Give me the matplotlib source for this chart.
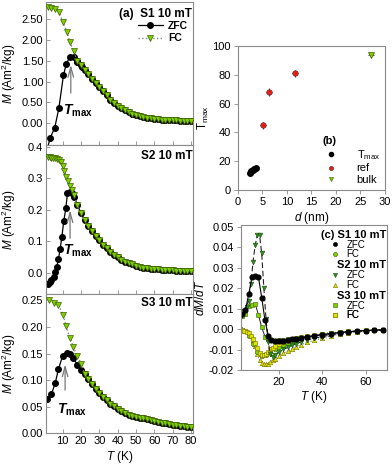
import matplotlib
matplotlib.use("Agg")
import matplotlib.pyplot as plt
from matplotlib.lines import Line2D
from matplotlib.ticker import FormatStrFormatter, MultipleLocator

plt.rcParams['font.family'] = ['Liberation Sans', 'DejaVu Sans']
plt.rcParams['font.size'] = 8
plt.rcParams['mathtext.fontset'] = 'custom'
plt.rcParams['mathtext.rm'] = 'Liberation Sans'
plt.rcParams['mathtext.it'] = 'Liberation Sans:italic'
plt.rcParams['mathtext.bf'] = 'Liberation Sans:bold'
try:
    plt.rcParams['mathtext.bfit'] = 'Liberation Sans:italic:bold'
except Exception:
    pass

# ---------------- data: panel (a) S1 ----------------
s1_zfc_T = [1.8, 3.3, 5.8, 8.0, 10.5, 12.0, 14.0, 16.0, 18.1, 20.8]
s1_zfc_M = [-0.60, -0.35, -0.10, 0.36, 1.15, 1.42, 1.60, 1.60, 1.48, 1.36]
s1_fc_T = [1.9, 4.0, 6.0, 8.2, 10.3, 12.3, 14.1, 16.1]
s1_fc_M = [2.78, 2.76, 2.74, 2.66, 2.42, 2.20, 1.94, 1.73]
s1_tail_T = [18, 20, 22, 24, 26, 28, 30, 32, 34, 36, 38, 40, 42, 44, 46, 48, 50,
             52, 54, 56, 58, 60, 62, 64, 66, 68, 70, 72, 74, 76, 78, 80]
s1_tail_M = [1.50, 1.40, 1.29, 1.18, 1.07, 0.97, 0.87, 0.77, 0.67, 0.57, 0.49, 0.42,
             0.36, 0.31, 0.26, 0.22, 0.19, 0.17, 0.15, 0.13, 0.12, 0.11, 0.10, 0.09,
             0.085, 0.08, 0.075, 0.07, 0.065, 0.06, 0.055, 0.05]

# ---------------- data: panel S2 ----------------
s2_zfc_T = [1.9, 3.0, 4.0, 5.1, 6.0, 6.9, 7.8, 8.7, 9.6, 10.7, 11.8, 12.7, 13.9, 15.0, 16.5]
s2_zfc_M = [-0.037, -0.030, -0.023, -0.013, 0.002, 0.019, 0.043, 0.075, 0.112, 0.164,
            0.204, 0.252, 0.257, 0.254, 0.241]
s2_fc_T = [2, 3, 4, 5, 6, 7, 8, 9, 10, 11, 12, 13, 14, 15, 16]
s2_fc_M = [0.366, 0.366, 0.365, 0.364, 0.363, 0.361, 0.357, 0.350, 0.338, 0.322,
           0.305, 0.290, 0.275, 0.262, 0.245]
s2_tail_T = s1_tail_T
s2_tail_M = [0.215, 0.190, 0.168, 0.148, 0.131, 0.115, 0.102, 0.089, 0.077, 0.066,
             0.056, 0.048, 0.041, 0.035, 0.030, 0.026, 0.022, 0.019, 0.016, 0.014,
             0.012, 0.011, 0.010, 0.009, 0.008, 0.007, 0.007, 0.006, 0.006, 0.005,
             0.005, 0.005]

# ---------------- data: panel S3 ----------------
s3_zfc_T = [1.5, 4.0, 6.0, 7.8, 10.0, 12.3, 13.9, 15.9, 18.1, 20.0]
s3_zfc_M = [0.065, 0.074, 0.094, 0.121, 0.145, 0.151, 0.150, 0.141, 0.129, 0.119]
s3_fc_T = [2.4, 5.1, 7.8, 10.5, 11.9, 14.1, 15.9, 18.1, 20.3]
s3_fc_M = [0.250, 0.246, 0.241, 0.222, 0.201, 0.179, 0.162, 0.145, 0.130]
s3_tail_T = [22, 24, 26, 28, 30, 32, 34, 36, 38, 40, 42, 44, 46, 48, 50, 52, 54, 56,
             58, 60, 62, 64, 66, 68, 70, 72, 74, 76, 78, 80]
s3_tail_M = [0.112, 0.102, 0.093, 0.084, 0.076, 0.069, 0.062, 0.056, 0.051, 0.046,
             0.042, 0.038, 0.035, 0.033, 0.031, 0.029, 0.028, 0.026, 0.025, 0.023,
             0.022, 0.020, 0.019, 0.017, 0.016, 0.015, 0.014, 0.013, 0.012, 0.011]

# ---------------- data: panel (b) ----------------
b_d_tmax = [2.5, 2.7, 3.0, 3.3, 3.6]
b_T_tmax = [11.5, 13.0, 14.0, 14.5, 15.0]
b_d_ref = [5.1, 6.3, 11.6]
b_T_ref = [45.0, 68.0, 81.0]
b_d_bulk = [27.1]
b_T_bulk = [94.0]

# ---------------- data: panel (c) ----------------
c_s1z_T = [3, 4.5, 6, 7.5, 9, 10.5, 12, 13.5, 15, 16.5, 18, 20, 22, 24, 26, 28, 30,
           33, 36, 40, 44, 48, 52, 56, 60, 64, 68]
c_s1z_y = [0.0075, 0.0095, 0.017, 0.0255, 0.026, 0.0255, 0.0155, 0.0045, -0.003,
           -0.005, -0.0055, -0.0056, -0.0055, -0.0052, -0.0049, -0.0045, -0.0042,
           -0.0037, -0.0032, -0.0026, -0.0021, -0.0016, -0.0012, -0.0009, -0.0006,
           -0.0004, -0.0003]
c_s1f_T = [2, 4, 6, 8, 10, 12, 14, 16, 18, 20, 22, 24, 26, 28, 30, 33, 36, 40, 44,
           48, 52, 56, 60, 64, 68]
c_s1f_y = [0.0, -0.001, -0.003, -0.007, -0.011, -0.013, -0.0125, -0.011, -0.0095,
           -0.0085, -0.0076, -0.0068, -0.006, -0.0054, -0.0048, -0.004, -0.0034,
           -0.0027, -0.0021, -0.0016, -0.0012, -0.0009, -0.0006, -0.0004, -0.0003]
c_s2z_T = [2, 3, 4, 5, 6, 7, 8, 9, 10, 11, 12, 13, 14, 15, 16, 17, 18, 20, 22, 24,
           26, 28, 30, 33, 36, 40, 44, 48, 52, 56, 60, 64, 68]
c_s2z_y = [0.005, 0.007, 0.009, 0.011, 0.014, 0.022, 0.033, 0.041, 0.046, 0.046,
           0.037, 0.020, 0.005, -0.006, -0.012, -0.0135, -0.0125, -0.011, -0.0098,
           -0.0088, -0.0078, -0.007, -0.0062, -0.0052, -0.0044, -0.0035, -0.0027,
           -0.002, -0.0015, -0.0011, -0.0008, -0.0005, -0.0004]
c_s2f_T = c_s2z_T
c_s2f_y = [0.0, 0.0, -0.0005, -0.001, -0.002, -0.003, -0.005, -0.008, -0.012, -0.015,
           -0.0165, -0.017, -0.017, -0.0168, -0.016, -0.015, -0.0142, -0.0128,
           -0.0116, -0.0105, -0.0095, -0.0085, -0.0076, -0.0064, -0.0054, -0.0042,
           -0.0032, -0.0024, -0.0017, -0.0012, -0.0008, -0.0005, -0.0003]
c_s3z_T = c_s1z_T
c_s3z_y = [0.0065, 0.0075, 0.0115, 0.012, 0.0125, 0.007, 0.001, -0.0035, -0.0048,
           -0.0053, -0.0055, -0.0054, -0.0052, -0.0049, -0.0046, -0.0043, -0.004,
           -0.0035, -0.003, -0.0025, -0.002, -0.0015, -0.0011, -0.0008, -0.0006,
           -0.0004, -0.0003]
c_s3f_T = c_s2z_T
c_s3f_y = [0.0, -0.0005, -0.001, -0.0015, -0.002, -0.003, -0.0045, -0.0065, -0.009,
           -0.0115, -0.0125, -0.0125, -0.012, -0.011, -0.0098, -0.009, -0.0083,
           -0.0072, -0.0063, -0.0055, -0.0049, -0.0043, -0.0038, -0.0032, -0.0027,
           -0.0021, -0.0016, -0.0012, -0.0009, -0.0006, -0.0004, -0.0003, -0.0002]

# ---------------- styles ----------------
LIME = '#7ED000'
LIME_E = '#3d6000'
DKGREEN = '#2f8f1f'
YELLOW = '#e2e200'
YELLOW_E = '#707000'
SPINE = '#8a8a8a'

fig = plt.figure(figsize=(3.92, 4.69), dpi=100)

def style_axes(ax, direction):
    for s in ax.spines.values():
        s.set_color(SPINE)
        s.set_linewidth(0.8)
    ax.tick_params(direction=direction, length=3, width=0.6, color=SPINE,
                   labelsize=8, pad=2)

left, width = 0.1173, 0.375
ax_a = fig.add_axes([left, 0.6908, width, 0.3049])
ax_2 = fig.add_axes([left, 0.3731, width, 0.3177])
ax_3 = fig.add_axes([left, 0.0761, width, 0.2970])

def draw_mt(ax, zT, zM, fT, fM, tT, tM):
    allzT = zT + tT
    allzM = zM + tM
    allfT = fT + tT
    allfM = fM + tM
    ax.plot(allfT, allfM, linestyle=':', color='#888888', lw=1.0, marker='v',
            ms=4, mfc=LIME, mec=LIME_E, mew=0.5, zorder=3, label='FC')
    ax.plot(allzT, allzM, linestyle='-', color='black', lw=0.9, marker='o',
            ms=4, mfc='black', mec='black', zorder=2, label='ZFC')
    ax.set_xlim(1, 81)
    ax.xaxis.set_major_locator(MultipleLocator(10))
    style_axes(ax, 'in')

draw_mt(ax_a, s1_zfc_T, s1_zfc_M, s1_fc_T, s1_fc_M, s1_tail_T, s1_tail_M)
draw_mt(ax_2, s2_zfc_T, s2_zfc_M, s2_fc_T, s2_fc_M, s2_tail_T, s2_tail_M)
draw_mt(ax_3, s3_zfc_T, s3_zfc_M, s3_fc_T, s3_fc_M, s3_tail_T, s3_tail_M)

ax_a.set_ylim(-0.52, 2.91)
ax_a.set_yticks([0, 0.5, 1.0, 1.5, 2.0, 2.5])
ax_a.yaxis.set_major_formatter(FormatStrFormatter('%.2f'))
ax_2.set_ylim(-0.068, 0.405)
ax_2.set_yticks([0.0, 0.1, 0.2, 0.3, 0.4])
ax_2.yaxis.set_major_formatter(FormatStrFormatter('%.1f'))
ax_3.set_ylim(0.0, 0.262)
ax_3.set_yticks([0, 0.05, 0.10, 0.15, 0.20, 0.25])
ax_3.yaxis.set_major_formatter(FormatStrFormatter('%.2f'))

for ax in (ax_a, ax_2):
    ax.tick_params(labelbottom=False)
ax_3.set_xticks([10, 20, 30, 40, 50, 60, 70, 80])
ax_3.set_xlabel('$T$ (K)', fontsize=8.5, labelpad=2)

for ax in (ax_a, ax_2, ax_3):
    ax.set_ylabel('$M$ (Am$^2$/kg)', fontsize=8.5, labelpad=2)
    ax.yaxis.set_label_coords(-0.19, 0.5)

ax_a.text(0.995, 0.955, '(a)  S1 10 mT', transform=ax_a.transAxes, ha='right',
          va='top', fontsize=8.5, fontweight='bold')
ax_2.text(0.995, 0.965, 'S2 10 mT', transform=ax_2.transAxes, ha='right',
          va='top', fontsize=8.5, fontweight='bold')
ax_3.text(0.995, 0.975, 'S3 10 mT', transform=ax_3.transAxes, ha='right',
          va='top', fontsize=8.5, fontweight='bold')

h, l = ax_a.get_legend_handles_labels()
leg = ax_a.legend(h[::-1], l[::-1], loc='upper right', bbox_to_anchor=(1.01, 0.91),
                  frameon=False, fontsize=7.5, handlelength=2.4, handletextpad=0.5,
                  labelspacing=0.2, borderpad=0.1)
for t in leg.get_texts():
    t.set_fontweight('bold')

arrow = dict(arrowstyle='->,head_length=0.9,head_width=0.25', color='#777777', lw=0.9)
tmax_lbl = r'$\mathbfit{T}_{\mathbf{max}}$'
ax_a.annotate('', xy=(14.5, 1.47), xytext=(14.5, 0.66), arrowprops=arrow)
ax_a.text(18.5, 0.30, tmax_lbl, ha='center', va='center', fontsize=10)
ax_2.annotate('', xy=(14.1, 0.207), xytext=(14.1, 0.100), arrowprops=arrow)
ax_2.text(18.2, 0.070, tmax_lbl, ha='center', va='center', fontsize=10)
ax_3.annotate('', xy=(11.4, 0.135), xytext=(11.4, 0.076), arrowprops=arrow)
ax_3.text(15.4, 0.045, tmax_lbl, ha='center', va='center', fontsize=10)

# ---------------- panel (b) ----------------
ax_b = fig.add_axes([0.6071, 0.5949, 0.375, 0.307])
ax_b.errorbar(b_d_tmax, b_T_tmax, xerr=0.25, yerr=1.0, fmt='o', ms=4, mfc='black',
              mec='black', ecolor='black', elinewidth=0.6, capsize=0,
              label='T$_{\\rm max}$')
ax_b.errorbar(b_d_ref, b_T_ref, xerr=0.6, yerr=2.5, fmt='o', ms=4, mfc='#e0201a',
              mec='#602020', mew=0.4, ecolor='#222222', elinewidth=0.6, capsize=0,
              label='ref')
ax_b.errorbar(b_d_bulk, b_T_bulk, xerr=0.6, yerr=2.0, fmt='v', ms=4, mfc=LIME,
              mec=LIME_E, mew=0.5, ecolor='#444444', elinewidth=0.6, capsize=0,
              label='bulk')
ax_b.set_xlim(0, 30)
ax_b.set_ylim(0, 100)
ax_b.set_xticks([0, 5, 10, 15, 20, 25, 30])
ax_b.set_yticks([0, 20, 40, 60, 80, 100])
style_axes(ax_b, 'out')
ax_b.set_xlabel('$d$ (nm)', fontsize=8.5, labelpad=2)
ax_b.set_ylabel('T$_{\\rm max}$', fontsize=8.5, labelpad=1)
hb, lb = ax_b.get_legend_handles_labels()
hb = [Line2D([], [], ls='none', marker='o', ms=3, mfc='black', mec='black'),
      Line2D([], [], ls='none', marker='o', ms=3, mfc='#e0201a', mec='#602020', mew=0.4),
      Line2D([], [], ls='none', marker='v', ms=3, mfc=LIME, mec=LIME_E, mew=0.4)]
legb = ax_b.legend(hb, lb, loc='lower right', bbox_to_anchor=(1.02, -0.02),
                   frameon=False, fontsize=8, title='(b)', handlelength=1.5,
                   handletextpad=1.6, labelspacing=0.15, borderpad=0.2)
legb.get_title().set_fontweight('bold')
legb.get_title().set_fontsize(8)
legb._legend_box.align = 'left'

# ---------------- panel (c) ----------------
ax_c = fig.add_axes([0.614, 0.2102, 0.3724, 0.31])
ax_c.plot(c_s2f_T, c_s2f_y, ls=':', color='#444444', lw=0.7, marker='^', ms=3.2,
          mfc=YELLOW, mec=YELLOW_E, mew=0.4, label='FC')
ax_c.plot(c_s1f_T, c_s1f_y, ls=':', color='#444444', lw=0.7, marker='o', ms=3.2,
          mfc=LIME, mec=LIME_E, mew=0.4, label='FC')
ax_c.plot(c_s3f_T, c_s3f_y, ls=':', color='#444444', lw=0.7, marker='s', ms=3.2,
          mfc=YELLOW, mec=YELLOW_E, mew=0.4, label='FC')
ax_c.plot(c_s3z_T, c_s3z_y, ls='-', color='#222222', lw=0.7, marker='s', ms=3.2,
          mfc=LIME, mec=LIME_E, mew=0.4, label='ZFC')
ax_c.plot(c_s2z_T, c_s2z_y, ls=(0, (5, 2.5)), color='#222222', lw=0.8, marker='v',
          ms=3.4, mfc=DKGREEN, mec='#1f4f10', mew=0.4, label='ZFC')
ax_c.plot(c_s1z_T, c_s1z_y, ls='-', color='black', lw=0.8, marker='o', ms=3.4,
          mfc='black', mec='black', label='ZFC')
ax_c.set_xlim(2.3, 69.7)
ax_c.set_ylim(-0.02, 0.0508)
ax_c.set_xticks([20, 40, 60])
ax_c.set_yticks([-0.02, -0.01, 0.0, 0.01, 0.02, 0.03, 0.04, 0.05])
ax_c.yaxis.set_major_formatter(FormatStrFormatter('%.2f'))
style_axes(ax_c, 'out')
ax_c.set_xlabel('$T$ (K)', fontsize=8.5, labelpad=1)
ax_c.set_ylabel('$dM/dT$', fontsize=8.5, labelpad=1)

def mk(marker, fc, ec):
    return Line2D([], [], ls='none', marker=marker, ms=3, mfc=fc, mec=ec, mew=0.4)

headers = [('(c) S1 10 mT', 0.931), ('S2 10 mT', 0.724), ('S3 10 mT', 0.512)]
for title, yc in headers:
    ax_c.text(0.995, yc, title, transform=ax_c.transAxes, ha='right', va='center',
              fontsize=8, fontweight='bold')

entries = [
    (mk('o', 'black', 'black'), 'ZFC', 0.866),
    (mk('o', LIME, LIME_E), 'FC', 0.798),
    (mk('v', DKGREEN, '#1f4f10'), 'ZFC', 0.655),
    (mk('^', YELLOW, YELLOW_E), 'FC', 0.586),
    (mk('s', LIME, LIME_E), 'ZFC', 0.446),
    (mk('s', YELLOW, YELLOW_E), 'FC', 0.378),
]
for handle, label, yc in entries:
    lg = ax_c.legend([handle], [label], loc='center left',
                     bbox_to_anchor=(0.61, yc), frameon=False,
                     fontsize=7, handlelength=1.0, handletextpad=0.7,
                     borderpad=0.0, borderaxespad=0.0)
    ax_c.add_artist(lg)

fig.savefig('out.png', dpi=100)
